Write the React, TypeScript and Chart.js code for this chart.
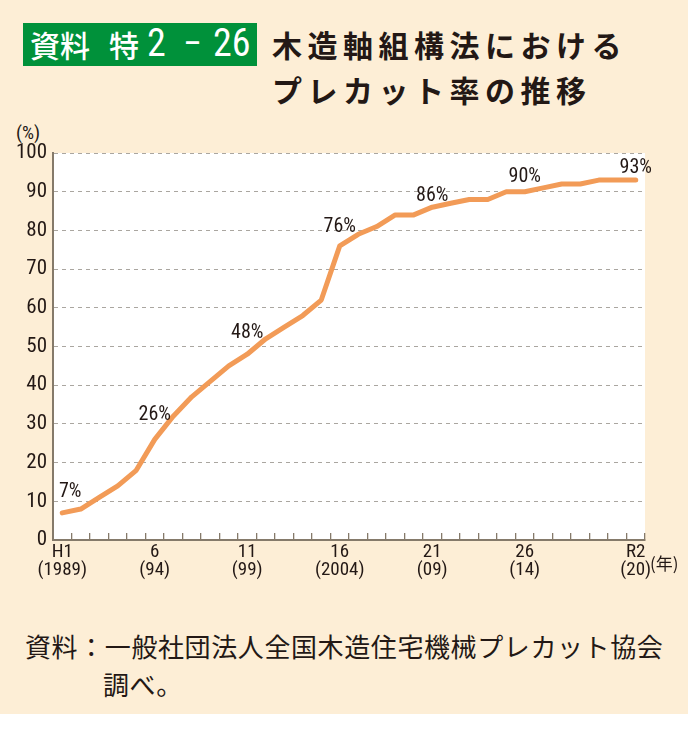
import React, { useEffect, useRef } from "react";
import { Chart, registerables } from "chart.js";

Chart.register(...registerables);

// ---- data ----
const categories = [
  "H1", "H2", "H3", "H4", "H5", "H6", "H7", "H8", "H9", "H10",
  "H11", "H12", "H13", "H14", "H15", "H16", "H17", "H18", "H19", "H20",
  "H21", "H22", "H23", "H24", "H25", "H26", "H27", "H28", "H29", "H30",
  "R1", "R2",
];
const precutRate = [
  7, 8, 11, 14, 18, 26, 32, 37, 41, 45,
  48, 52, 55, 58, 62, 76, 79, 81, 84, 84,
  86, 87, 88, 88, 90, 90, 91, 92, 92, 93,
  93, 93,
];
const tickCategories = ["H1", "H6", "H11", "H16", "H21", "H26", "R2"];
const tickEraLabels = ["H1", "6", "11", "16", "21", "26", "R2"];
const tickYearLabels = ["(1989)", "(94)", "(99)", "(2004)", "(09)", "(14)", "(20)"];
const labeledCategories = ["H1", "H6", "H11", "H16", "H21", "H26", "R2"];
const yTicks = [0, 10, 20, 30, 40, 50, 60, 70, 80, 90, 100];

// ---- styles ----
const BEIGE = "#fdeed6";
const GREEN = "#00913a";
const ORANGE = "#f29b57";
const TEXT = "#231815";
const AXIS = "#857a6a";
const GRID = "#aaa6a0";
const NUM_FONT = "'Liberation Sans Narrow', 'Roboto Condensed', 'DejaVu Sans Condensed', Roboto, sans-serif";
const JP_FONT = "'Noto Sans CJK JP', sans-serif";
// label offsets (dx, dy of baseline) relative to the data point
const labelOffsets = [
  [8, -16], [0, -19], [0, -16], [0, -14], [0, -6], [0, -10], [0, -7],
];

const plotBgPlugin = {
  id: "plotBg",
  beforeDraw(chart: any) {
    const { ctx, chartArea } = chart;
    ctx.save();
    ctx.fillStyle = "#ffffff";
    ctx.fillRect(chartArea.left, chartArea.top, chartArea.right - chartArea.left, chartArea.bottom - chartArea.top);
    ctx.restore();
  },
};

const valueLabelPlugin = {
  id: "valueLabels",
  afterDatasetsDraw(chart: any) {
    const { ctx } = chart;
    const xs = chart.scales.x;
    const ys = chart.scales.y;
    ctx.save();
    ctx.font = `20px ${NUM_FONT}`;
    ctx.fillStyle = TEXT;
    ctx.textAlign = "center";
    ctx.textBaseline = "alphabetic";
    labeledCategories.forEach((cat, i) => {
      const idx = categories.indexOf(cat);
      const v = precutRate[idx];
      const px = xs.getPixelForValue(idx);
      const py = ys.getPixelForValue(v);
      const [dx, dy] = labelOffsets[i];
      ctx.fillText(`${v}%`, px + dx, py + dy);
    });
    ctx.restore();
  },
};

function PrecutChart() {
  const ref = useRef<HTMLCanvasElement | null>(null);
  useEffect(() => {
    if (!ref.current) return;
    const chart = new Chart(ref.current, {
      type: "line",
      data: {
        labels: categories,
        datasets: [
          {
            data: precutRate,
            borderColor: ORANGE,
            borderWidth: 5,
            pointRadius: 0,
            tension: 0,
            borderCapStyle: "round",
            borderJoinStyle: "round",
            fill: false,
          },
        ],
      },
      options: {
        animation: false,
        responsive: false,
        events: [],
        layout: { padding: { top: 153, right: 43, left: 0, bottom: 0 } },
        plugins: { legend: { display: false }, tooltip: { enabled: false }, title: { display: false } },
        scales: {
          x: {
            type: "category",
            offset: true,
            afterFit(scale: any) {
              scale.height = 60;
            },
            grid: {
              display: true,
              offset: true,
              drawOnChartArea: false,
              drawTicks: true,
              tickLength: -7,
              color: AXIS,
              lineWidth: 1.3,
            },
            border: { display: true, color: AXIS, width: 2 },
            ticks: {
              autoSkip: false,
              maxRotation: 0,
              minRotation: 0,
              padding: 10,
              color: TEXT,
              font: { family: NUM_FONT, size: 19, lineHeight: 0.95 },
              callback(_v: any, index: number) {
                const cat = categories[index];
                const k = tickCategories.indexOf(cat);
                if (k < 0) return "";
                return [tickEraLabels[k], tickYearLabels[k]];
              },
            },
          },
          y: {
            min: 0,
            max: 100,
            afterFit(scale: any) {
              scale.width = 53;
            },
            afterBuildTicks(scale: any) {
              scale.ticks = yTicks.map((v) => ({ value: v }));
            },
            grid: {
              display: true,
              drawTicks: false,
              color: (c: any) => (c.tick && c.tick.value === 0 ? "rgba(0,0,0,0)" : GRID),
              lineWidth: 1,
            },
            border: { display: true, color: AXIS, width: 2, dash: [4, 4] },
            ticks: {
              padding: 6,
              color: TEXT,
              font: { family: NUM_FONT, size: 21 },
              callback: (v: any) => `${v}`,
            },
          },
        },
      },
      plugins: [plotBgPlugin, valueLabelPlugin],
    } as any);
    return () => chart.destroy();
  }, []);
  return <canvas ref={ref} width={688} height={600} style={{ position: "absolute", left: 0, top: 0 }} />;
}

const boxSpan = (left: number, text: string, numeric: boolean) => (
  <span
    style={{
      position: "absolute",
      left,
      top: numeric ? 20 : 21,
      fontFamily: numeric ? NUM_FONT : JP_FONT,
      fontSize: numeric ? 38 : 30,
      fontWeight: numeric ? 400 : 500,
      color: "#fff",
      lineHeight: "46px",
      whiteSpace: "nowrap",
    }}
  >
    {text}
  </span>
);

export default function App() {
  return (
    <div style={{ position: "absolute", left: 0, top: 0, width: 688, height: 730, background: "#ffffff", overflow: "hidden" }}>
      <div style={{ position: "absolute", left: 0, top: 0, width: 688, height: 714, background: BEIGE }} />
      <div style={{ position: "absolute", left: 23, top: 23, width: 234, height: 43, background: GREEN }} />
      {boxSpan(30, "資料", false)}
      {boxSpan(109, "特", false)}
      {boxSpan(147, "2", true)}
      {boxSpan(183, "−", true)}
      {boxSpan(213, "26", true)}
      <div
        style={{
          position: "absolute", left: 272, top: 22, fontFamily: JP_FONT, fontSize: 30, fontWeight: 700,
          color: TEXT, lineHeight: "45px", letterSpacing: 5.5, whiteSpace: "nowrap",
        }}
      >
        <div>木造軸組構法における</div>
        <div>プレカット率の推移</div>
      </div>
      <div style={{ position: "absolute", left: 16, top: 121, fontFamily: NUM_FONT, fontSize: 19, color: TEXT }}>(%)</div>
      <PrecutChart />
      <div style={{ position: "absolute", left: 650, top: 550, fontFamily: JP_FONT, fontSize: 17, color: TEXT, whiteSpace: "nowrap" }}>
        (年)
      </div>
      <div
        style={{
          position: "absolute", left: 25, top: 627, fontFamily: JP_FONT, fontSize: 26, color: TEXT,
          lineHeight: "38px", letterSpacing: 0.6, whiteSpace: "nowrap",
        }}
      >
        <div>資料：一般社団法人全国木造住宅機械プレカット協会</div>
        <div style={{ paddingLeft: 78 }}>調べ。</div>
      </div>
    </div>
  );
}
